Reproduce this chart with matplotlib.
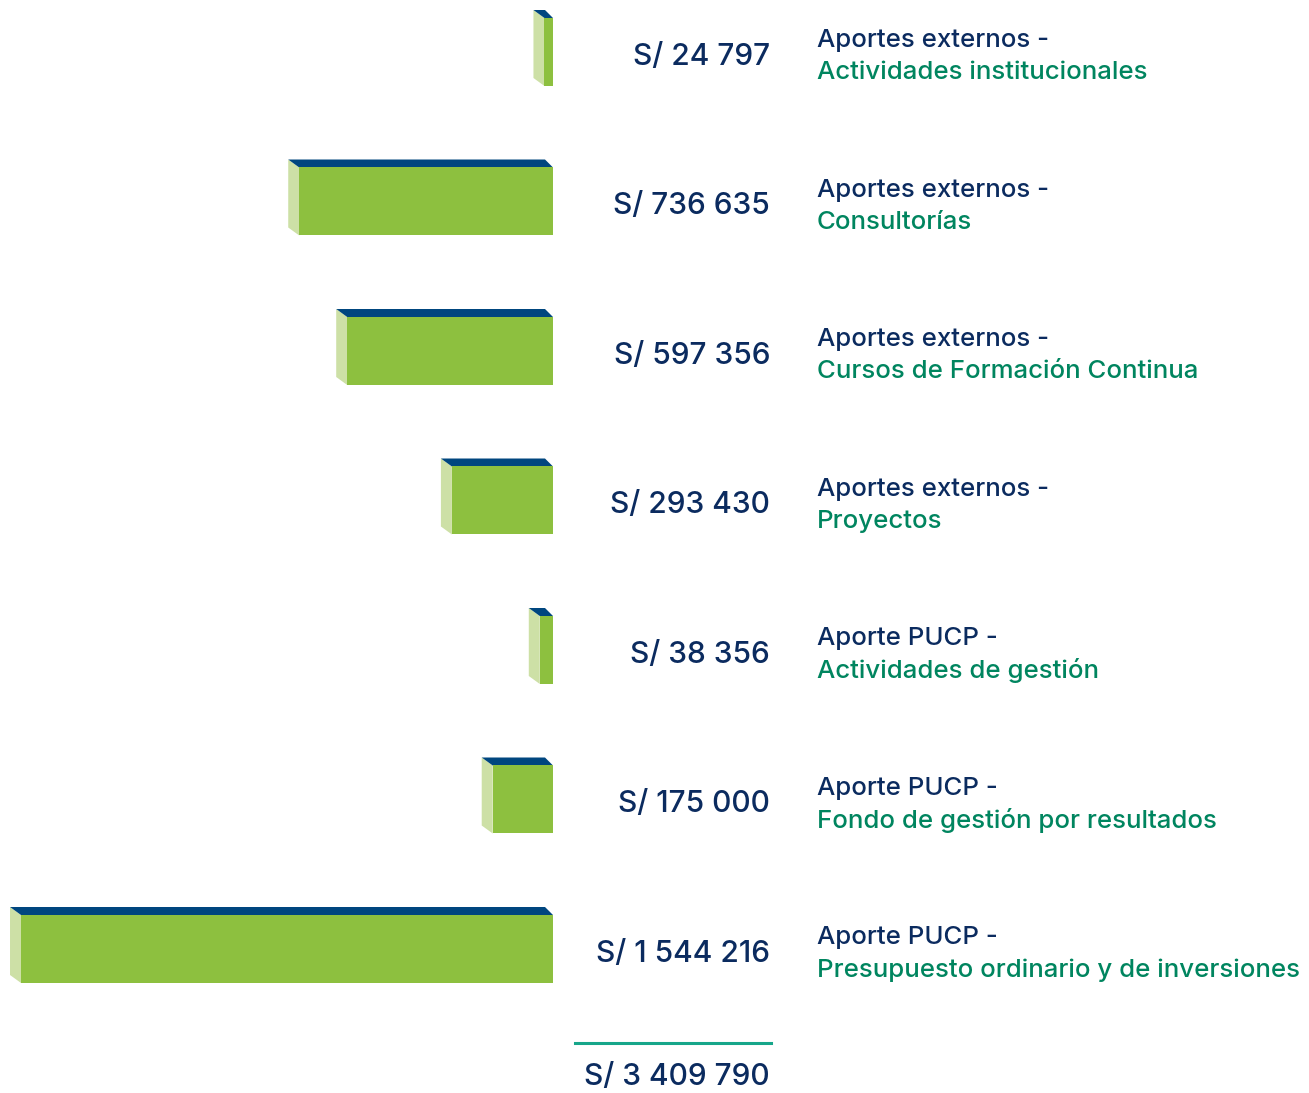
import matplotlib
matplotlib.use("Agg")
import matplotlib.pyplot as plt
import matplotlib.transforms as mtransforms
from matplotlib.patches import Polygon

plt.rcParams['font.family'] = ['Inter', 'DejaVu Sans']

# Datos (en soles)
fuentes = ["Aportes externos -", "Aportes externos -", "Aportes externos -",
           "Aportes externos -", "Aporte PUCP -", "Aporte PUCP -", "Aporte PUCP -"]
conceptos = ["Actividades institucionales", "Consultorías",
             "Cursos de Formación Continua", "Proyectos",
             "Actividades de gestión", "Fondo de gestión por resultados",
             "Presupuesto ordinario y de inversiones"]
montos = [24797, 736635, 597356, 293430, 38356, 175000, 1544216]
etiquetas = ["S/ 24 797", "S/ 736 635", "S/ 597 356", "S/ 293 430",
             "S/ 38 356", "S/ 175 000", "S/ 1 544 216"]
total_txt = "S/ 3 409 790"

# colores
azul = "#0b2b5f"
verde_txt = "#00855f"
frente = "#8dc03f"
lado = "#cde0a6"
techo = "#00467f"
linea_total = "#17a68a"

W, H = 1309, 1093
fig = plt.figure(figsize=(W / 100, H / 100), dpi=100)
ax = fig.add_axes([0, 0, 1, 1])

# escala: px por sol, eje x en soles (crece hacia la izquierda)
k = 3.445e-4
x0 = 553
ax.set_xlim(x0 / k, -(W - x0) / k)
paso = 149.5
c0 = 52
ax.set_ylim((H - c0) / paso, -c0 / paso)
ax.axis("off")

alto = 68 / paso
dx = 11 / k    # profundidad horizontal
dy = 8 / paso  # profundidad vertical

ys = list(range(len(montos)))
ax.barh(ys, montos, height=alto, left=0, color=frente, zorder=2)

for y, v in zip(ys, montos):
    top = y - alto / 2
    bot = y + alto / 2
    # cara lateral
    ax.add_patch(Polygon([(v, top), (v + dx, top - dy), (v + dx, bot - dy), (v, bot)],
                         closed=True, facecolor=lado, edgecolor="none", zorder=1))
    # cara superior
    ax.add_patch(Polygon([(v + dx, top - dy), (8 / k, top - dy), (0, top), (v, top)],
                         closed=True, facecolor=techo, edgecolor="none", zorder=1))

tr = mtransforms.blended_transform_factory(fig.transFigure, ax.transData)
for y, lab, f, c in zip(ys, etiquetas, fuentes, conceptos):
    ax.text(770 / W, y + 5 / paso, lab, transform=tr, ha="right", va="center",
            fontsize=21.5, color=azul, fontweight="medium")
    ax.text(817 / W, y - 11 / paso, f, transform=tr, ha="left", va="center",
            fontsize=18.6, color=azul, fontweight="medium")
    ax.text(817 / W, y + 21 / paso, c, transform=tr, ha="left", va="center",
            fontsize=18.6, color=verde_txt, fontweight="medium")

yl = (1043 - c0) / paso
ax.plot([575 / W, 771 / W], [yl, yl], transform=tr, color=linea_total, lw=2.2)
ax.text(770 / W, (1077 - c0) / paso, total_txt, transform=tr, ha="right", va="center",
        fontsize=21.5, color=azul, fontweight="medium")

fig.savefig("out.png", dpi=100)
